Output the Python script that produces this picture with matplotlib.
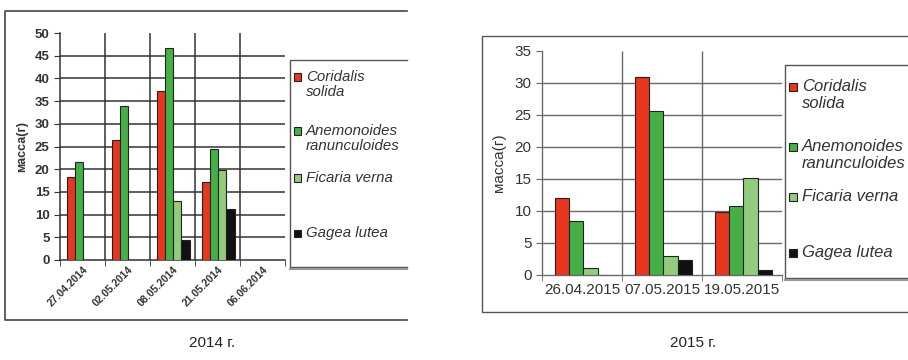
import numpy as np
import matplotlib
matplotlib.use("Agg")
import matplotlib.pyplot as plt
from matplotlib.lines import Line2D
from matplotlib.patches import Rectangle

plt.rcParams['font.family'] = ['Liberation Sans', 'DejaVu Sans']

species = ["Coridalis\nsolida", "Anemonoides\nranunculoides", "Ficaria verna", "Gagea lutea"]
colors = ["#e8361f", "#45b045", "#93cc7c", "#111111"]

dates_2014 = ["27.04.2014", "02.05.2014", "08.05.2014", "21.05.2014", "06.06.2014"]
coridalis_2014 = [18.2, 26.5, 37.3, 17.2, 0]
anemonoides_2014 = [21.5, 34.0, 46.6, 24.5, 0]
ficaria_2014 = [0, 0, 13.1, 19.9, 0]
gagea_2014 = [0, 0, 4.4, 11.3, 0]

dates_2015 = ["26.04.2015", "07.05.2015", "19.05.2015"]
coridalis_2015 = [12.0, 30.9, 9.8]
anemonoides_2015 = [8.4, 25.7, 10.8]
ficaria_2015 = [1.1, 3.0, 15.1]
gagea_2015 = [0, 2.4, 0.8]

W, H = 908, 360
fig = plt.figure(figsize=(W / 100, H / 100), dpi=100)


def px_axes(x0, y_top, x1, y_bot):
    # axes placed by pixel box (origin at top-left)
    return fig.add_axes([x0 / W, 1 - y_bot / H, (x1 - x0) / W, (y_bot - y_top) / H])


def frame(x0, y0, x1, y1, lw=1.2, color="#444444"):
    # open-right rectangle in pixel coords
    pts = [(x1, y0), (x0, y0), (x0, y1), (x1, y1)]
    xs = [p[0] / W for p in pts]
    ys = [1 - p[1] / H for p in pts]
    fig.add_artist(Line2D(xs, ys, color=color, lw=lw, transform=fig.transFigure))


def draw_bars(ax, dates, series, ymax, step, grid_color, grid_lw, tick_kw, xlabel_kw, ylabel_kw):
    n = len(dates)
    x = np.arange(n)
    w = 0.18
    for k, vals in enumerate(series):
        ax.bar(x + (k - 1.4) * w, vals, w, color=colors[k], edgecolor="#222222", lw=0.8, zorder=3)
    ax.set_xlim(-0.5, n - 0.5)
    ax.set_ylim(0, ymax)
    # horizontal grid
    ax.hlines(np.arange(step, ymax, step), -0.5, n - 0.5, color=grid_color, lw=grid_lw, zorder=1)
    # vertical separators between dates
    ax.vlines(np.arange(0.5, n - 0.5, 1), 0, ymax, color=grid_color, lw=grid_lw, zorder=1)
    for s in ["top", "right"]:
        ax.spines[s].set_visible(False)
    for s in ["left", "bottom"]:
        ax.spines[s].set_color(grid_color)
        ax.spines[s].set_linewidth(grid_lw)
    ax.set_yticks(np.arange(0, ymax + 1, step))
    ax.tick_params(axis="y", length=4, color=grid_color, **tick_kw)
    ax.set_xticks(x)
    ax.set_xticks(np.arange(-0.5, n, 1), minor=True)
    ax.tick_params(axis="x", which="major", length=0, **xlabel_kw)
    ax.tick_params(axis="x", which="minor", length=4, color=grid_color)
    ax.set_ylabel("масса(г)", **ylabel_kw)
    ax.patch.set_alpha(0)


# 2014
frame(5, 11, 407, 320)
ax1 = px_axes(60, 33, 285, 260)
draw_bars(ax1, dates_2014, [coridalis_2014, anemonoides_2014, ficaria_2014, gagea_2014],
          50, 5, "#333333", 1.1,
          dict(labelsize=9.5, labelcolor="#333333"),
          dict(labelsize=7.5, labelcolor="#333333", pad=3),
          dict(fontsize=9, fontweight="bold", color="#333333", labelpad=5))
ax1.set_xticks(np.arange(len(dates_2014)))
ax1.set_xticklabels(dates_2014, rotation=45, ha="right", rotation_mode="anchor")
for t in ax1.get_yticklabels() + ax1.get_xticklabels():
    t.set_fontweight("bold")

# 2015
frame(482, 36, 910, 312, color="#555555", lw=1.0)
ax2 = px_axes(542, 51, 782, 275)
draw_bars(ax2, dates_2015, [coridalis_2015, anemonoides_2015, ficaria_2015, gagea_2015],
          35, 5, "#6a6a6a", 1.0,
          dict(labelsize=11, labelcolor="#333333"),
          dict(labelsize=11, labelcolor="#333333", pad=6),
          dict(fontsize=11, color="#333333", labelpad=6))
ax2.set_xticklabels(dates_2015)


def legend_box(x0, y0, x1, y1, sq_x, text_x, ys, sq, fs):
    frame(x0, y0, x1, y1, color="#555555", lw=1.0)
    fig.add_artist(Line2D([x0 / W, x1 / W], [1 - (y1 + 1.5) / H] * 2, color="#999999", lw=1.5,
                          transform=fig.transFigure))
    for k, (label, yy) in enumerate(zip(species, ys)):
        fig.add_artist(Rectangle(((sq_x - sq / 2) / W, 1 - (yy + sq / 2) / H), sq / W, sq / H,
                                 facecolor=colors[k], edgecolor="#222222", lw=0.8,
                                 transform=fig.transFigure))
        fig.text(text_x / W, 1 - (yy - 0.68 * fs) / H, label, fontsize=fs, style="italic",
                 color="#333333", va="top", ha="left", linespacing=1.15)


legend_box(290, 60, 407, 267, 297, 306, [77, 131, 178, 233], 7, 10.8)
legend_box(785, 65, 910, 278, 793, 802, [87, 147, 197, 253], 8, 12)

fig.text(212 / W, 1 - 343 / H, "2014 г.", fontsize=11, color="#222222", ha="center", va="center")
fig.text(693 / W, 1 - 343 / H, "2015 г.", fontsize=11, color="#222222", ha="center", va="center")

fig.savefig("out.png", dpi=100)
